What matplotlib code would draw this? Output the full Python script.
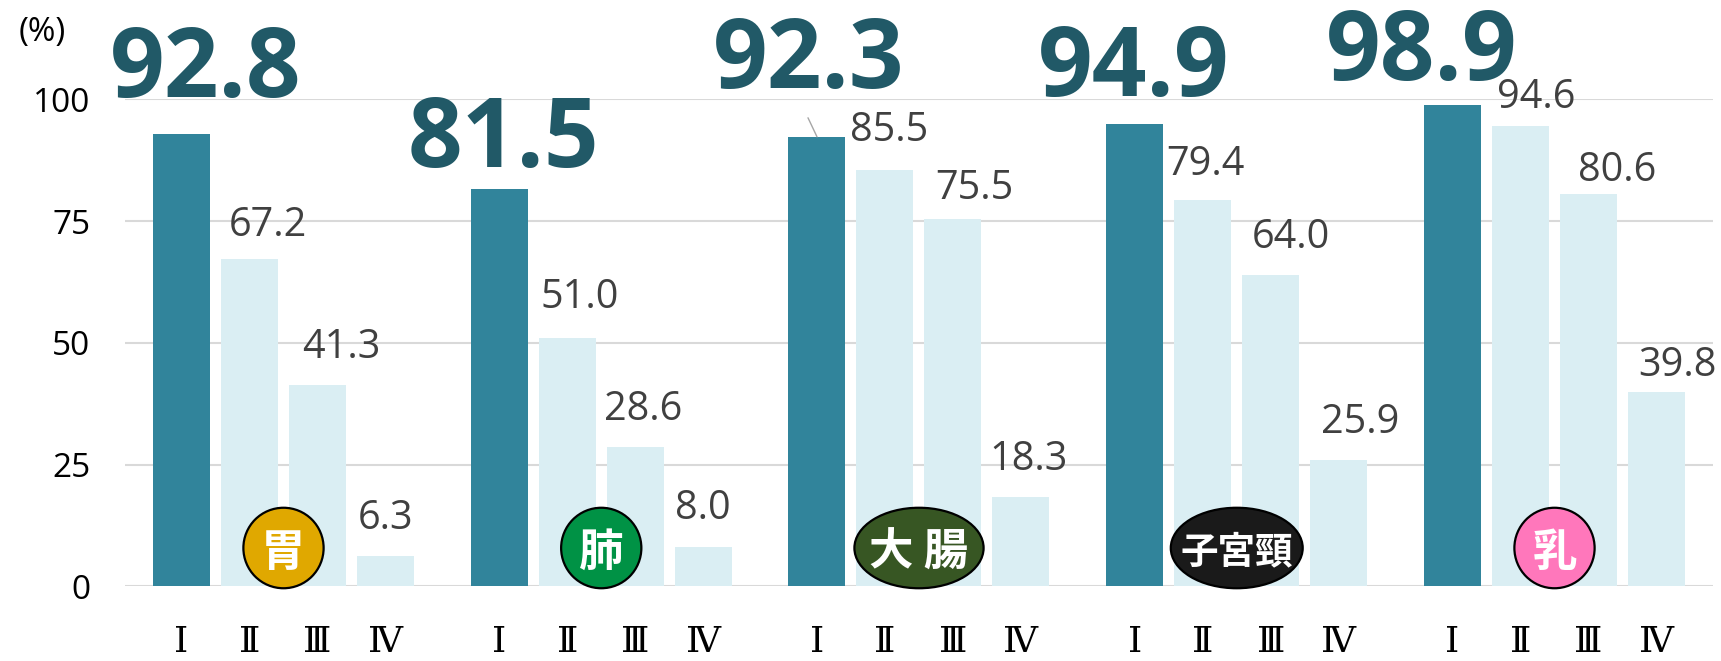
import matplotlib
matplotlib.use("Agg")
import matplotlib.pyplot as plt
from matplotlib.patches import Ellipse

# ---------------- data ----------------
cancers = ["胃", "肺", "大 腸", "子宮頸", "乳"]
stages = ["Ⅰ", "Ⅱ", "Ⅲ", "Ⅳ"]
stage1 = [92.8, 81.5, 92.3, 94.9, 98.9]
stage2 = [67.2, 51.0, 85.5, 79.4, 94.6]
stage3 = [41.3, 28.6, 75.5, 64.0, 80.6]
stage4 = [6.3, 8.0, 18.3, 25.9, 39.8]
yticks = [0, 25, 50, 75, 100]
unit_label = "(%)"

# ---------------- style ----------------
badge_colors = ["#E0A800", "#009245", "#375623", "#1A1A1A", "#FF77BB"]
badge_widths = [1.18, 1.18, 1.90, 1.94, 1.18]
badge_fontsizes = [32, 32, 32, 27, 32]
dark = "#31849B"
light = "#DAEEF3"
big_color = "#215967"
label_color = "#404040"
grid_color = "#D9D9D9"
# label offsets (pixels) relative to the bar top centre: (dx, dy)
label_offsets = [
    [(24.5, 37), (18, 23), (24, 27), (0, 27)],
    [(4, 22), (12.5, 30), (7.5, 27), (0, 28)],
    [(-8, 49), (4, 28.6), (21, 20), (8, 26.7)],
    [(-1.5, 28), (2.5, 25), (20, 27), (21, 27)],
    [(-30.5, 24.6), (15.5, 17.6), (28.5, 13), (21, 16)],
]
PX = 72.0 / 100.0  # pixels -> points

W, H = 1721, 661
fig = plt.figure(figsize=(W / 100, H / 100), dpi=100)
ax_left, ax_right, ax_bottom_px, ax_top_px = 125, 1713, 586.3, 99.3
ax = fig.add_axes([ax_left / W, (H - ax_bottom_px) / H,
                   (ax_right - ax_left) / W, (ax_bottom_px - ax_top_px) / H])

group_step = 317.75 / 68.0
bar_w = 57.0 / 68.0
series = [stage1, stage2, stage3, stage4]
n_groups = len(cancers)

for g in range(n_groups):
    base = g * group_step
    for i, s in enumerate(series):
        x = base + i
        v = s[g]
        ax.bar(x, v, width=bar_w, color=dark if i == 0 else light, zorder=2)
        dx, dy = label_offsets[g][i]
        if i == 0:
            ax.annotate(f"{v:.1f}", xy=(x, v), xytext=(dx * PX, dy * PX),
                        textcoords="offset points", ha="center", va="baseline",
                        fontsize=69, fontweight="bold", family="Open Sans",
                        color=big_color, annotation_clip=False, zorder=5)
        else:
            ax.annotate(f"{v:.1f}", xy=(x, v), xytext=(dx * PX, dy * PX),
                        textcoords="offset points", ha="center", va="baseline",
                        fontsize=28.5, family="Open Sans",
                        color=label_color, annotation_clip=False, zorder=5)
    # badge
    cx = base + 1.5
    cy = 38.3 / 4.87
    e = Ellipse((cx, cy), width=badge_widths[g], height=80.5 / 4.87,
                facecolor=badge_colors[g], edgecolor="black", linewidth=1.6,
                zorder=4, clip_on=False)
    ax.add_patch(e)
    ax.text(cx, cy, cancers[g], ha="center", va="center_baseline",
            fontsize=badge_fontsizes[g], fontweight="bold",
            family=["Noto Sans CJK JP", "DejaVu Sans"], color="white", zorder=6)

# leader line for colon stage I
g = 2
ax.annotate("", xy=(g * group_step, stage1[g]), xytext=(-9 * PX, 19 * PX),
            textcoords="offset points",
            arrowprops=dict(arrowstyle="-", color="#A6A6A6", lw=1,
                            shrinkA=0, shrinkB=0), zorder=5)

# stage labels under bars
for g in range(n_groups):
    for i, st in enumerate(stages):
        ax.annotate(st, xy=(g * group_step + i, 0), xycoords=("data", "axes fraction"),
                    xytext=(0, -(652 - ax_bottom_px) * PX), textcoords="offset points",
                    ha="center", va="baseline", fontsize=26,
                    family=["DejaVu Serif", "Noto Sans CJK JP"], color="black",
                    annotation_clip=False)

ax.set_xlim(-56.5 / 68.0, (n_groups - 1) * group_step + 3 + 56.5 / 68.0)
ax.set_ylim(0, 100)
ax.set_yticks(yticks)
ax.set_yticklabels([str(t) for t in yticks], family="Open Sans", fontsize=24,
                   color="black")
ax.tick_params(axis="y", length=0, pad=25)
ax.set_xticks([])
ax.grid(axis="y", color=grid_color, linewidth=1.5, zorder=0)
ax.set_axisbelow(True)
for sp in ax.spines.values():
    sp.set_visible(False)

fig.text(42 / W, 1 - 33 / H, unit_label, ha="center", va="center",
         fontsize=24, family="Open Sans", color="black")

fig.savefig("out.png", dpi=100)
